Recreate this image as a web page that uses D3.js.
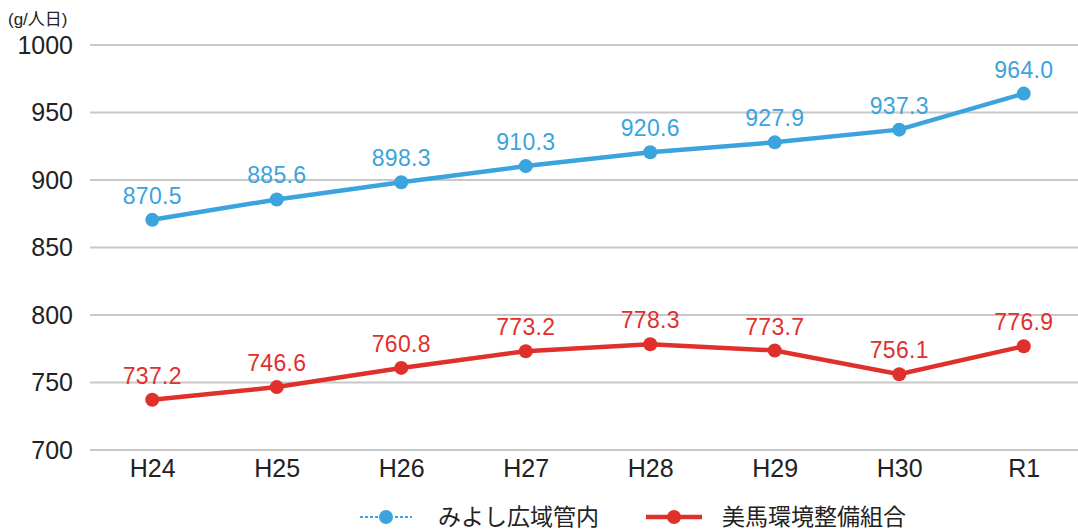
<!DOCTYPE html>
<html>
<head>
<meta charset="utf-8">
<script src="https://cdn.jsdelivr.net/npm/d3@7"></script>
<style>
  body { margin: 0; background: #fff; }
  svg { font-family: "Liberation Sans", "Noto Sans CJK JP", sans-serif; }
</style>
</head>
<body>
<div id="chart"></div>
<script>
// data
const years = ["H24", "H25", "H26", "H27", "H28", "H29", "H30", "R1"];
const miyoshi = [870.5, 885.6, 898.3, 910.3, 920.6, 927.9, 937.3, 964.0];
const mima = [737.2, 746.6, 760.8, 773.2, 778.3, 773.7, 756.1, 776.9];
const yTicks = [700, 750, 800, 850, 900, 950, 1000];
const seriesNames = ["みよし広域管内", "美馬環境整備組合"];

const width = 1078, height = 529;
const blue = "#3ba3dd", red = "#e0302c";

const svg = d3.select("#chart").append("svg")
    .attr("width", width).attr("height", height);

const x = d3.scalePoint().domain(years).range([90, 1086]).padding(0.5);
const y = d3.scaleLinear().domain([700, 1000]).range([450, 45]);

//Gridlines
svg.append("g").selectAll("line").data(yTicks).join("line")
    .attr("x1", 90).attr("x2", width)
    .attr("y1", d => y(d)).attr("y2", d => y(d))
    .attr("stroke", "#c8c8c8").attr("stroke-width", 2);

//Y axis labels
let yAxis = d3.axisLeft(y).tickValues(yTicks).tickFormat(d3.format("d")).tickSize(0).tickPadding(0);
let yG = svg.append("g").attr("transform", "translate(73, 0)").call(yAxis);
yG.select(".domain").remove();
yG.selectAll("text").attr("font-size", 25).attr("fill", "#222")
    .attr("font-family", "Liberation Sans, sans-serif");

//X axis labels
let xAxis = d3.axisBottom(x).tickSize(0).tickPadding(0);
let xG = svg.append("g").attr("transform", "translate(0, 477)").call(xAxis);
xG.select(".domain").remove();
xG.selectAll("text").attr("font-size", 25).attr("fill", "#222")
    .attr("y", 0).attr("dy", null)
    .attr("font-family", "Liberation Sans, sans-serif");

//Unit label
svg.append("text").text("(g/人日)")
    .attr("x", 8).attr("y", 25)
    .attr("font-size", 17).attr("fill", "#222");

function drawSeries(values, color) {
    let line = d3.line().x((d, i) => x(years[i])).y(d => y(d));
    svg.append("path").datum(values)
        .attr("d", line)
        .attr("fill", "none")
        .attr("stroke", color)
        .attr("stroke-width", 4.5);
    svg.append("g").selectAll("circle").data(values).join("circle")
        .attr("cx", (d, i) => x(years[i]))
        .attr("cy", d => y(d))
        .attr("r", 7)
        .attr("fill", color);
    svg.append("g").selectAll("text").data(values).join("text")
        .attr("x", (d, i) => x(years[i]))
        .attr("y", d => y(d) - 16)
        .attr("text-anchor", "middle")
        .attr("font-size", 23)
        .attr("letter-spacing", 0.3)
        .attr("fill", color)
        .text(d => d.toFixed(1));
}

drawSeries(miyoshi, blue);
drawSeries(mima, red);

//Legend
let legend = svg.append("g").attr("transform", "translate(0, 517)");
let items = [
    {name: seriesNames[0], color: blue, x0: 360, x1: 412, tx: 438},
    {name: seriesNames[1], color: red, x0: 646, x1: 702, tx: 722}
];
items.forEach(it => {
    legend.append("line")
        .attr("x1", it.x0).attr("x2", it.x1)
        .attr("stroke", it.color).attr("stroke-width", it.color === blue ? 2 : 4.5)
        .attr("stroke-dasharray", it.color === blue ? "3,2" : null);
    legend.append("circle")
        .attr("cx", (it.x0 + it.x1) / 2).attr("r", 7)
        .attr("fill", it.color);
    legend.append("text")
        .attr("x", it.tx).attr("y", 8)
        .attr("font-size", 23).attr("fill", "#222")
        .text(it.name);
});
</script>
</body>
</html>
